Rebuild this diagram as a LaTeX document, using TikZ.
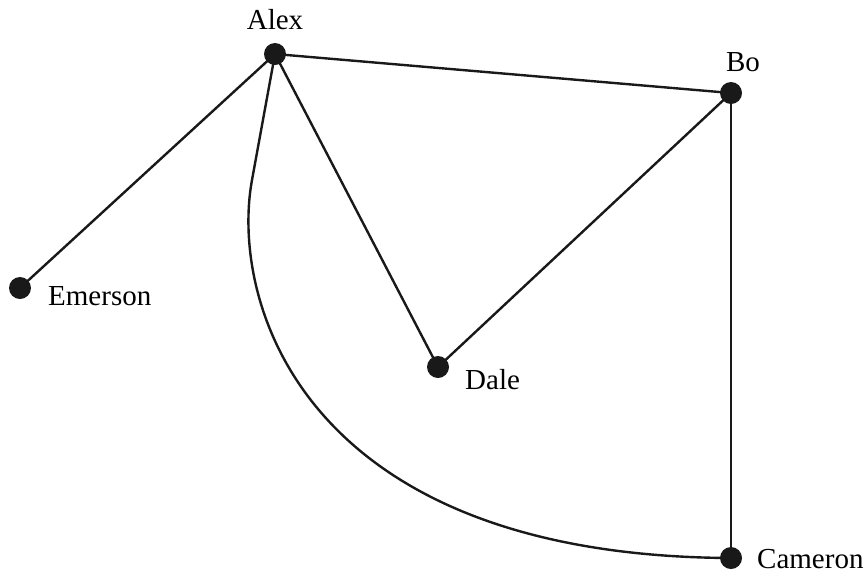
\documentclass[tikz,border=0pt]{standalone}
\usepackage{fontspec}
\setmainfont{Liberation Serif}
\begin{document}
\begin{tikzpicture}[x=1pt,y=-1pt,
  vertex/.style={circle,fill=black!90,inner sep=0pt,minimum size=22pt},
  lbl/.style={font=\fontsize{29}{31}\selectfont,inner sep=0pt},
  edge/.style={line width=2.4pt,black!90}]
\useasboundingbox (0,0) rectangle (868,574);
\node[vertex] (A) at (275,54) {};
\node[vertex] (B) at (731,93) {};
\node[vertex] (E) at (20,288) {};
\node[vertex] (D) at (438,367) {};
\node[vertex] (C) at (731,558) {};
\node[lbl,anchor=base] (lA) at (275,29) {Alex};
\node[lbl,anchor=base] (lB) at (743,71) {Bo};
\node[lbl,anchor=base west] (lE) at (48,305) {Emerson};
\node[lbl,anchor=base west] (lD) at (465,389) {Dale};
\node[lbl,anchor=base west] (lC) at (757,568) {Cameron};
\coordinate (k) at (252,180);
\draw[edge] (A.center) -- (B.center);
\draw[edge] (A.center) -- (E.center);
\draw[edge] (A.center) -- (D.center);
\draw[edge] (D.center) -- (B.center);
\draw[edge] (B.center) -- (C.center);
\draw[edge] (A.center) -- (k) .. controls (230,300) and (300,556) .. (C.center);
\end{tikzpicture}
\end{document}
